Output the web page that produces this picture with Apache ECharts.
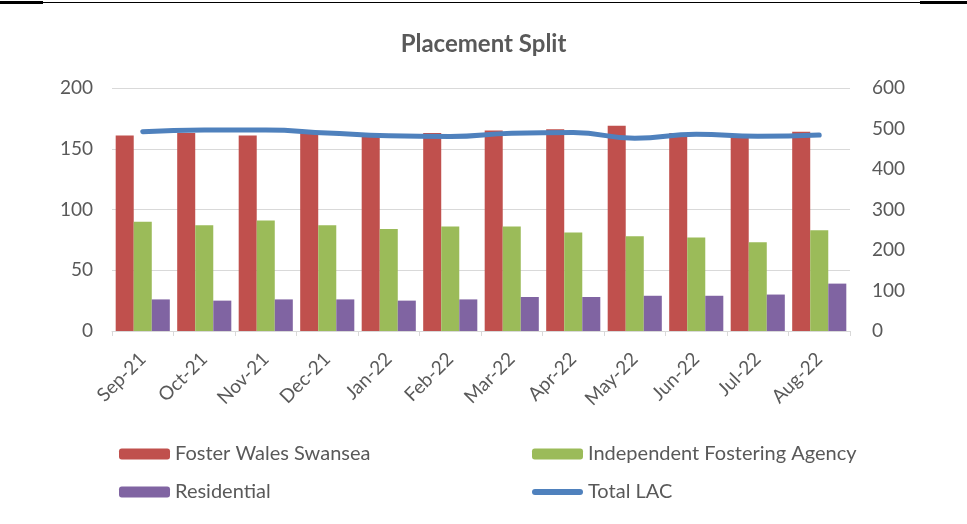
<!DOCTYPE html>
<html>
<head>
<meta charset="utf-8">
<script src="https://cdn.jsdelivr.net/npm/echarts@6/dist/echarts.min.js"></script>
<style>
  html, body { margin: 0; padding: 0; background: #fff; }
  #main { width: 967px; height: 524px; }
</style>
</head>
<body>
<div id="main"></div>
<script>
// 月份
var months = ['Sep-21', 'Oct-21', 'Nov-21', 'Dec-21', 'Jan-22', 'Feb-22', 'Mar-22', 'Apr-22', 'May-22', 'Jun-22', 'Jul-22', 'Aug-22'];
var fosterWales = [161, 163, 161, 163, 160, 163, 165, 166, 169, 163, 162, 164];
var ifa = [90, 87, 91, 87, 84, 86, 86, 81, 78, 77, 73, 83];
var residential = [26, 25, 26, 26, 25, 26, 28, 28, 29, 29, 30, 39];
var totalLac = [492, 496, 496, 489, 482, 480, 488, 490, 476, 486, 481, 484];

var font = 'Lato';
var grey = '#595959';
var lineIcon = 'path://M3,0 L48,0 A3,3 0 0 1 48,6 L3,6 A3,3 0 0 1 3,0 Z';

var myChart = echarts.init(document.getElementById('main'));
myChart.setOption({
  backgroundColor: '#fff',
  animation: false,
  title: {
    text: 'Placement Split',
    left: 'center',
    top: 27,
    textStyle: { fontFamily: font, fontSize: 24, fontWeight: 'bold', color: grey }
  },
  graphic: [
    { type: 'rect', shape: { x: 0, y: 1, width: 43, height: 3 }, style: { fill: '#000' } },
    { type: 'rect', shape: { x: 43, y: 2, width: 877, height: 1 }, style: { fill: '#000' } },
    { type: 'rect', shape: { x: 920, y: 1, width: 47, height: 3 }, style: { fill: '#000' } }
  ],
  legend: [
    {
      left: 114, top: 439, orient: 'vertical', itemGap: 18,
      itemWidth: 51, itemHeight: 11,
      data: ['Foster Wales Swansea', 'Residential'],
      textStyle: { fontFamily: font, fontSize: 20, color: grey, padding: [0, 0, 0, 0] }
    },
    {
      left: 527, top: 439, orient: 'vertical', itemGap: 18,
      itemWidth: 51, itemHeight: 11,
      data: ['Independent Fostering Agency', { name: 'Total LAC', icon: lineIcon }],
      textStyle: { fontFamily: font, fontSize: 20, color: grey, padding: [0, 0, 0, 0] }
    }
  ],
  grid: { left: 112, right: 117, top: 88, bottom: 193 },
  xAxis: {
    type: 'category',
    data: months,
    axisLine: { lineStyle: { color: '#D9D9D9' } },
    axisTick: { show: true, length: 5, lineStyle: { color: '#D9D9D9' } },
    axisLabel: { rotate: 45, margin: 25, fontFamily: font, fontSize: 19, color: grey }
  },
  yAxis: [
    {
      type: 'value', min: 0, max: 200, interval: 50,
      axisLine: { show: false }, axisTick: { show: false },
      splitLine: { lineStyle: { color: '#D9D9D9' } },
      axisLabel: { margin: 19, fontFamily: font, fontSize: 19, color: grey }
    },
    {
      type: 'value', min: 0, max: 600, interval: 100,
      axisLine: { show: false }, axisTick: { show: false },
      splitLine: { show: false },
      axisLabel: { margin: 22, fontFamily: font, fontSize: 19, color: grey }
    }
  ],
  series: [
    {
      name: 'Foster Wales Swansea', type: 'bar', data: fosterWales,
      barGap: 0, barCategoryGap: '12%',
      itemStyle: { color: '#C0504D' }
    },
    {
      name: 'Independent Fostering Agency', type: 'bar', data: ifa,
      barGap: 0, barCategoryGap: '12%',
      itemStyle: { color: '#9BBB59' }
    },
    {
      name: 'Residential', type: 'bar', data: residential,
      barGap: 0, barCategoryGap: '12%',
      itemStyle: { color: '#8064A2' }
    },
    {
      name: 'Total LAC', type: 'line', yAxisIndex: 1, data: totalLac,
      smooth: 0.5, symbol: 'none',
      itemStyle: { color: '#4F81BD' },
      lineStyle: { color: '#4F81BD', width: 5, cap: 'round' }
    }
  ]
});
</script>
</body>
</html>
